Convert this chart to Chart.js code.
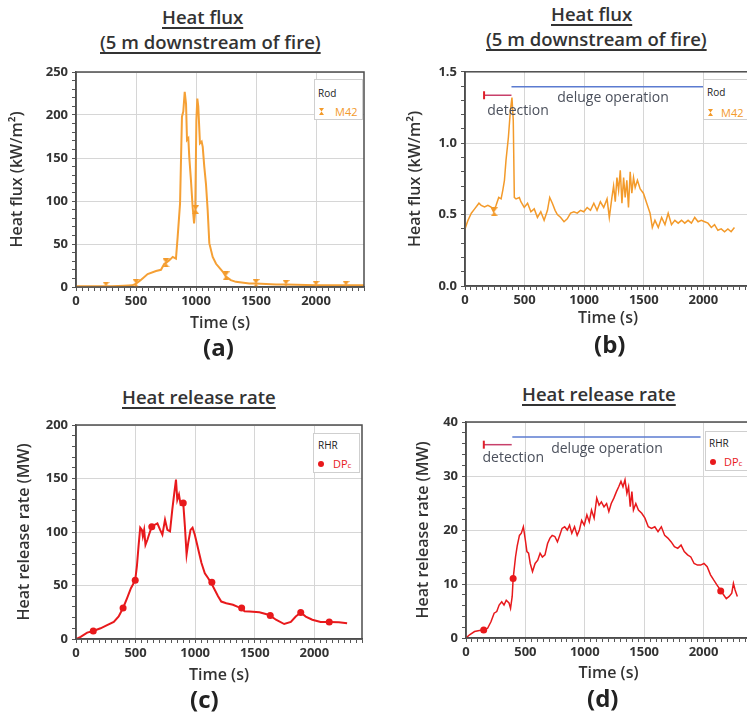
<!DOCTYPE html>
<html>
<head>
<meta charset="utf-8">
<script src="https://cdn.jsdelivr.net/npm/chart.js@4.4.1/dist/chart.umd.min.js"></script>
<style>
  body { margin: 0; background: #fff; font-family: "Open Sans", sans-serif; color: #333; }
  #page { position: relative; width: 747px; height: 718px; overflow: hidden; }
  canvas { position: absolute; }
  .ttl { position: absolute; font-size: 18.5px; font-weight: 600; line-height: 1; white-space: nowrap;
         text-decoration: underline; text-decoration-thickness: 1.5px; text-underline-offset: 3px; }
  .tag { position: absolute; font-size: 24px; font-weight: 700; line-height: 1; color: #222; }
  .leg { position: absolute; background: #fff; border: 1px solid #cfcfcf; }
  .leg span { position: absolute; line-height: 1; white-space: nowrap; }
  .head { font-size: 10px; color: #222; }
  .m42 { font-size: 11px; color: #f39a2a; }
  .dpc { font-size: 11px; color: #e8191c; }
  .hg { width: 5px; height: 7px; background: #f39a2a;
        clip-path: polygon(0 0, 100% 0, 50% 50%, 100% 100%, 0 100%, 50% 50%); }
  .dot { width: 6px; height: 6px; border-radius: 50%; background: #e8191c; }
</style>
</head>
<body>
<div id="page">
  <canvas id="ca" width="374" height="280" style="left:0;top:60px"></canvas>
  <canvas id="cb" width="400" height="280" style="left:374px;top:60px"></canvas>
  <canvas id="cc" width="374" height="280" style="left:0;top:410px"></canvas>
  <canvas id="cd" width="400" height="280" style="left:374px;top:410px"></canvas>

  <div class="ttl" style="left:162px;top:8px">Heat flux</div>
  <div class="ttl" style="left:100px;top:33px">(5 m downstream of fire)</div>
  <div class="ttl" style="left:551px;top:5px">Heat flux</div>
  <div class="ttl" style="left:486px;top:30px">(5 m downstream of fire)</div>
  <div class="ttl" style="left:122px;top:388px">Heat release rate</div>
  <div class="ttl" style="left:522px;top:385px">Heat release rate</div>

  <div class="tag" style="left:203px;top:335px">(a)</div>
  <div class="tag" style="left:594px;top:332px">(b)</div>
  <div class="tag" style="left:190px;top:687px">(c)</div>
  <div class="tag" style="left:587px;top:686px">(d)</div>

  <div class="leg" style="left:314px;top:79px;width:47px;height:39px">
    <span class="head" style="left:3px;top:8px">Rod</span>
    <span class="hg" style="left:4px;top:28px"></span>
    <span class="m42" style="left:20px;top:26px">M42</span>
  </div>
  <div class="leg" style="left:703px;top:79px;width:60px;height:39px">
    <span class="head" style="left:3px;top:7px">Rod</span>
    <span class="hg" style="left:4px;top:29px"></span>
    <span class="m42" style="left:17px;top:27px">M42</span>
  </div>
  <div class="leg" style="left:313px;top:433px;width:45px;height:38px">
    <span class="head" style="left:4px;top:6px">RHR</span>
    <span class="dot" style="left:4px;top:27px"></span>
    <span class="dpc" style="left:19px;top:24px">DP<small style="font-size:8px">c</small></span>
  </div>
  <div class="leg" style="left:705px;top:431px;width:60px;height:38px">
    <span class="head" style="left:3px;top:6px">RHR</span>
    <span class="dot" style="left:4px;top:27px"></span>
    <span class="dpc" style="left:18px;top:24px">DP<small style="font-size:8px">c</small></span>
  </div>
</div>

<script>
// (a) heat flux, no deluge
const aTime = [0,100,200,250,300,400,470,500,530,555,597,667,708,736,750,778,806,833,847,867,883,894,906,917,925,936,944,958,972,984,994,1003,1011,1019,1033,1047,1056,1069,1083,1097,1111,1139,1167,1222,1250,1290,1333,1444,1500,1667,1750,2000,2250,2400];
const aFlux = [1,1,1,1,1,1.5,2,4,7,10,15,18.6,20,27,28,31,35,33,58,97,198,204,227,213,171,173,151,124,93,74,90,194,219,210,167,169,163,140,120,90,51,35,27,18,12,8,6,4,4,3,3,2,2,2];
const aMarkT = [250,500,750,997,1250,1500,1750,2000,2250];
const aMarkV = [1,4,28,90,13,4,3,2,2];

// (b) heat flux, with deluge
const bTime = [0,25,53,81,117,136,164,192,219,239,261,283,303,317,331,344,364,381,394,405,414,428,456,469,497,525,553,581,608,636,664,692,711,733,756,775,803,831,858,886,914,942,969,997,1025,1053,1081,1108,1136,1164,1192,1211,1233,1247,1261,1275,1289,1303,1317,1331,1344,1358,1372,1386,1400,1414,1428,1447,1470,1497,1525,1553,1572,1594,1622,1650,1678,1705,1733,1761,1789,1817,1844,1872,1900,1928,1956,1983,2011,2039,2067,2094,2122,2150,2178,2206,2233,2261];
const bFlux = [0.40,0.46,0.51,0.54,0.58,0.565,0.553,0.565,0.553,0.52,0.565,0.62,0.61,0.67,0.74,0.88,1.04,1.23,1.32,1.16,0.62,0.61,0.62,0.59,0.55,0.58,0.52,0.54,0.48,0.52,0.46,0.53,0.62,0.58,0.53,0.50,0.48,0.45,0.47,0.51,0.52,0.51,0.53,0.52,0.55,0.53,0.58,0.53,0.59,0.55,0.61,0.48,0.62,0.70,0.59,0.76,0.67,0.81,0.58,0.76,0.62,0.74,0.55,0.80,0.65,0.76,0.69,0.74,0.68,0.65,0.58,0.51,0.41,0.46,0.41,0.48,0.43,0.51,0.43,0.46,0.44,0.46,0.44,0.46,0.44,0.48,0.45,0.46,0.45,0.44,0.41,0.43,0.39,0.40,0.38,0.40,0.38,0.41];
const bMarkT = [245];
const bMarkV = [0.52];
const bDetectT = [160,390], bDetectV = [1.335,1.335];
const bDelugeT = [390,2000], bDelugeV = [1.395,1.395];

// (c) heat release rate, no deluge
const cTime = [0,39,94,145,206,261,317,358,395,428,461,497,511,525,539,553,561,572,583,600,617,636,664,683,706,725,747,767,789,808,825,839,850,864,878,900,914,928,942,961,978,997,1017,1034,1053,1081,1108,1136,1164,1192,1219,1261,1317,1358,1386,1414,1456,1539,1622,1678,1747,1803,1844,1886,1928,1983,2053,2122,2206,2275];
const cHrr = [0,2,6,7.5,10,13,16,21,29,38,47.5,55,68,87,104,102,96,102,88,93,99,105,107,108,102,97.5,111.5,102,100.6,121,136.6,149,130,135,125.6,127,105,79,90,102,104,97.5,88,80,71,61.5,57,52,46,40,35,33.4,32,30,29,26,25.6,25,22.5,18,14,16,21,24.7,21,18,16,16,15.6,14.7];
const cMarkT = [145,395,497,636,900,1140,1390,1630,1886,2125];
const cMarkV = [7.5,29,55,105,127,53,29,22,24.7,16];

// (d) heat release rate, with deluge
const dTime = [0,30,72,113,149,182,210,237,259,279,301,320,339,362,375,389,397,417,431,450,466,483,500,513,527,541,560,582,604,624,643,665,687,707,726,748,770,789,809,831,853,872,891,914,936,955,974,996,1018,1038,1057,1079,1101,1121,1140,1162,1184,1203,1223,1245,1267,1286,1305,1322,1339,1355,1369,1383,1397,1410,1430,1452,1480,1507,1535,1562,1590,1617,1645,1673,1700,1728,1755,1783,1811,1838,1866,1893,1921,1949,1976,2004,2031,2059,2087,2114,2142,2169,2192,2216,2238,2252,2266,2285];
const dHrr = [0,0.6,1.2,1.4,1.5,1.8,3,4.6,4.9,6.1,6.7,6.1,7,6.5,5.5,7.7,11,15,17,19,19.4,20.6,18.1,16,15.7,13.8,12.3,13.8,14.4,15.7,15,15.4,17.5,18.5,19,18.8,17.8,19,20.3,20.6,20,20.9,19.4,20.6,19,20,21.8,20.9,22.8,21.5,23.7,22.2,25.9,24.6,25.2,24.3,24.9,23.4,24.9,25.9,27.1,28,29,28,29.3,26.8,28,24.3,27.1,23.7,24.9,23.7,23.1,22.2,20.6,20.3,20.6,19.7,20.6,19,18.5,17.8,16.9,16.6,17.2,16,15.4,15,13.8,13.5,13.5,13.8,13.2,11.7,10.7,9.8,8.9,8,7.3,7.7,8.3,10.1,8.9,7.7];
const dMarkT = [149,397,2145];
const dMarkV = [1.5,11,8.7];
const dDetectT = [150,385], dDetectV = [35.8,35.8];
const dDelugeT = [390,1975], dDelugeV = [37.2,37.2];

const ORANGE = '#f39a2a';
const RED = '#e8191c';

Chart.defaults.font.family = '"Open Sans", sans-serif';
Chart.defaults.color = '#333';

const pts = (xs, ys) => xs.map((x, i) => ({ x: x, y: ys[i] }));

function hourglass(color) {
  const c = document.createElement('canvas');
  c.width = 7; c.height = 9;
  const g = c.getContext('2d');
  g.fillStyle = color;
  g.beginPath(); g.moveTo(0, 0); g.lineTo(7, 0); g.lineTo(3.5, 4.5); g.closePath(); g.fill();
  g.beginPath(); g.moveTo(0, 9); g.lineTo(7, 9); g.lineTo(3.5, 4.5); g.closePath(); g.fill();
  return c;
}
const hg = hourglass(ORANGE);

// box round the plot area
Chart.register({
  id: 'frame',
  afterDraw(chart) {
    const { ctx, chartArea: a } = chart;
    ctx.save();
    ctx.strokeStyle = '#4d4d4d';
    ctx.lineWidth = 1.5;
    ctx.strokeRect(a.left, a.top, a.right - a.left, a.bottom - a.top);
    ctx.restore();
  }
});

// text labels placed in data coordinates
Chart.register({
  id: 'notes',
  afterDatasetsDraw(chart, args, opts) {
    if (!opts.items || !opts.items.length) return;
    const { ctx, scales: { x, y } } = chart;
    ctx.save();
    ctx.font = '14px "Open Sans"';
    ctx.fillStyle = '#4b505c';
    ctx.textAlign = 'center';
    ctx.textBaseline = 'middle';
    opts.items.forEach(n => ctx.fillText(n.text, x.getPixelForValue(n.x), y.getPixelForValue(n.y)));
    ctx.restore();
  }
});

function panel(id, o) {
  const isMajorY = v => Math.abs(v / o.yMajor - Math.round(v / o.yMajor)) < 1e-6;
  return new Chart(document.getElementById(id), {
    type: 'line',
    data: { datasets: o.datasets },
    options: {
      responsive: false,
      animation: false,
      layout: { padding: { top: o.padTop, right: o.padRight, left: 0, bottom: 0 } },
      plugins: {
        legend: { display: false },
        tooltip: { enabled: false },
        notes: { items: o.notes || [] }
      },
      scales: {
        x: {
          type: 'linear', min: 0, max: 2400,
          afterFit: s => { s.height = o.xH; },
          ticks: {
            stepSize: 50, autoSkip: false, maxRotation: 0, padding: 2,
            color: '#333', font: { size: 13, weight: 'bold' },
            callback: v => (v % 500 === 0 ? v : '')
          },
          grid: {
            color: c => (c.tick && c.tick.value % 500 === 0) ? '#d6d6d6' : 'rgba(0,0,0,0)',
            tickColor: '#555', tickLength: 4
          },
          border: { color: '#4d4d4d', width: 1.5 },
          title: {
            display: true, text: 'Time (s)', color: '#333',
            font: { size: 16, weight: '600' }, padding: { top: 0, bottom: o.xTitlePad }
          }
        },
        y: {
          min: 0, max: o.yMax,
          afterFit: s => { s.width = o.yW; },
          ticks: {
            stepSize: o.yStep, autoSkip: false, padding: 4,
            color: '#333', font: { size: 13, weight: 'bold' },
            callback: v => (isMajorY(v) ? v.toFixed(o.yDec) : '')
          },
          grid: {
            color: c => (c.tick && isMajorY(c.tick.value)) ? '#d6d6d6' : 'rgba(0,0,0,0)',
            tickColor: '#555', tickLength: 4
          },
          border: { color: '#4d4d4d', width: 1.5 },
          title: {
            display: true, text: o.yTitle, color: '#333',
            font: { size: 16, weight: '600' }, padding: { top: o.yTitlePad, bottom: 0 }
          }
        }
      }
    }
  });
}

const lineSet = (data, color, width) => ({
  data: data, borderColor: color, borderWidth: width, pointRadius: 0, tension: 0
});
const hgSet = data => ({
  data: data, showLine: false, pointStyle: hg, pointRadius: 4
});
const dotSet = data => ({
  data: data, showLine: false, pointStyle: 'circle', pointRadius: 3.5,
  backgroundColor: RED, borderColor: RED, borderWidth: 0
});
const detectSet = data => ({
  data: data, borderColor: '#c8406a', borderWidth: 1.5, tension: 0,
  pointStyle: 'line', pointRotation: 90, pointRadius: [4, 0],
  pointBorderColor: '#e0202a', pointBorderWidth: 2
});
const delugeSet = data => ({
  data: data, borderColor: '#5b7bd0', borderWidth: 1.5, pointRadius: 0, tension: 0
});

panel('ca', {
  padTop: 12, padRight: 10, xH: 53, yW: 76, xTitlePad: 7, yTitlePad: 8,
  yMax: 250, yStep: 10, yMajor: 50, yDec: 0, yTitle: 'Heat flux (kW/m²)',
  datasets: [hgSet(pts(aMarkT, aMarkV)), lineSet(pts(aTime, aFlux), '#f5a035', 2)]
});

panel('cb', {
  padTop: 11, padRight: 23, xH: 54, yW: 91, xTitlePad: 12, yTitlePad: 32,
  yMax: 1.5, yStep: 0.1, yMajor: 0.5, yDec: 1, yTitle: 'Heat flux (kW/m²)',
  notes: [{ text: 'deluge operation', x: 1242, y: 1.318 }, { text: 'detection', x: 445, y: 1.228 }],
  datasets: [
    detectSet(pts(bDetectT, bDetectV)),
    delugeSet(pts(bDelugeT, bDelugeV)),
    hgSet(pts(bMarkT, bMarkV)),
    lineSet(pts(bTime, bFlux), ORANGE, 1.5)
  ]
});

panel('cc', {
  padTop: 15, padRight: 12, xH: 51, yW: 76, xTitlePad: 5, yTitlePad: 15,
  yMax: 200, yStep: 10, yMajor: 50, yDec: 0, yTitle: 'Heat release rate (MW)',
  datasets: [dotSet(pts(cMarkT, cMarkV)), lineSet(pts(cTime, cHrr), RED, 2)]
});

panel('cd', {
  padTop: 12, padRight: 23, xH: 52, yW: 92, xTitlePad: 7, yTitlePad: 40,
  yMax: 40, yStep: 2, yMajor: 10, yDec: 0, yTitle: 'Heat release rate (MW)',
  notes: [{ text: 'deluge operation', x: 1187, y: 35.0 }, { text: 'detection', x: 398, y: 33.3 }],
  datasets: [
    detectSet(pts(dDetectT, dDetectV)),
    delugeSet(pts(dDelugeT, dDelugeV)),
    dotSet(pts(dMarkT, dMarkV)),
    lineSet(pts(dTime, dHrr), RED, 1.5)
  ]
});
</script>
</body>
</html>
